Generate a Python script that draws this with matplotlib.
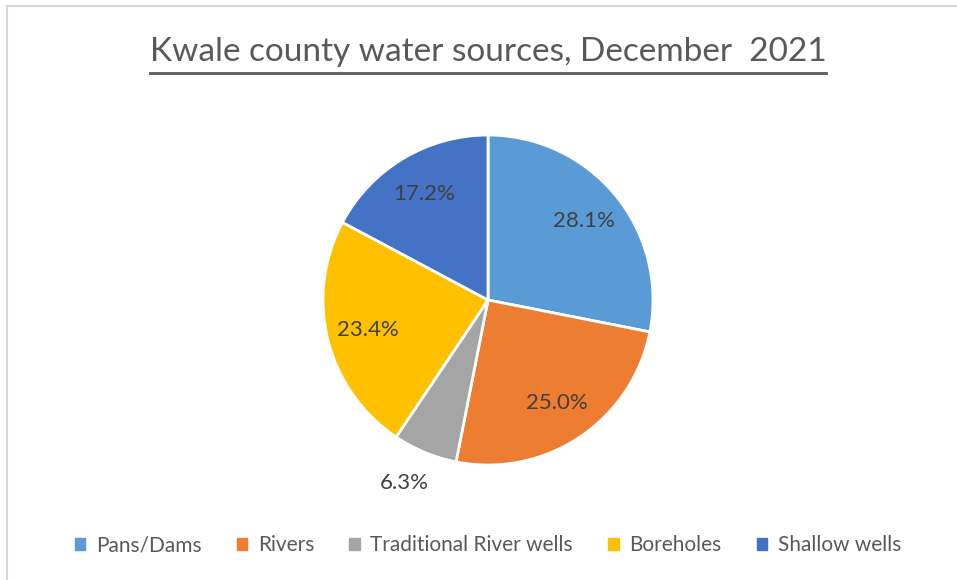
import numpy as np
import matplotlib
matplotlib.use("Agg")
import matplotlib.pyplot as plt
from matplotlib.lines import Line2D

# data (shares in percent, as labelled on the chart)
sources = ["Pans/Dams", "Rivers", "Traditional River wells", "Boreholes", "Shallow wells"]
shares = [28.1, 25.0, 6.3, 23.4, 17.2]
colors = ["#5B9BD5", "#ED7D31", "#A5A5A5", "#FFC000", "#4472C4"]

plt.rcParams['font.family'] = ['Lato', 'DejaVu Sans']

fig = plt.figure(figsize=(9.57, 5.8), dpi=100)
W, H = 957, 580

# chart frame (top and left edges visible)
fig.add_artist(Line2D([7 / W, 1], [1 - 6 / H, 1 - 6 / H], color="#d9d9d9", lw=1.5))
fig.add_artist(Line2D([7 / W, 7 / W], [0, 1 - 6 / H], color="#d9d9d9", lw=1.5))

cx, cy, R = 488, 300, 165
ax = fig.add_axes([(cx - R) / W, 1 - (cy + R) / H, 2 * R / W, 2 * R / H])

wedges, texts, autotexts = ax.pie(
    shares, colors=colors, startangle=90, counterclock=False,
    autopct="%1.1f%%", pctdistance=0.75,
    wedgeprops=dict(edgecolor="white", linewidth=2),
    textprops=dict(color="#404040", fontsize=16))
ax.set_xlim(-1, 1)
ax.set_ylim(-1, 1)
ax.set_aspect("equal")

# small slice label sits outside the pie
w = wedges[2]
ang = np.deg2rad((w.theta1 + w.theta2) / 2)
autotexts[2].set_position((1.2 * np.cos(ang) - 0.05, 1.2 * np.sin(ang)))
autotexts[2].set_clip_on(False)

title = fig.text(cx / W, 1 - 52 / H, "Kwale county water sources, December  2021",
                 ha="center", va="center", fontsize=24, color="#595959")
fig.canvas.draw()
bb = title.get_window_extent()
fig.add_artist(Line2D([bb.x0 / W, bb.x1 / W], [1 - 73 / H, 1 - 73 / H], color="#595959", lw=2))

handles = [plt.Rectangle((0, 0), 1, 1, color=c) for c in colors]
fig.legend(handles, sources, loc="center", bbox_to_anchor=(cx / W, 1 - 545 / H),
           ncol=5, frameon=False, fontsize=15, labelcolor="#595959",
           handlelength=0.5, handleheight=0.5, handletextpad=0.5, columnspacing=1.7)

fig.savefig("out.png", dpi=100)
